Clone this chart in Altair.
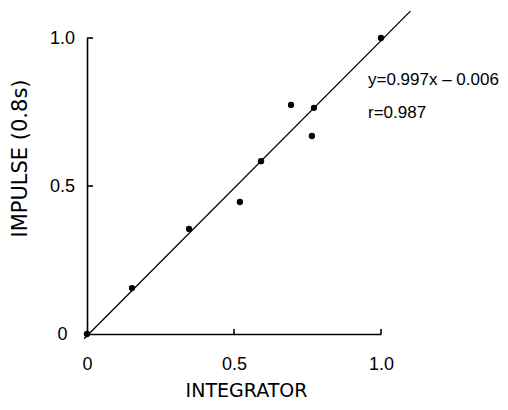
import altair as alt
import pandas as pd

# Data
integrator = [0.0, 0.153, 0.347, 0.520, 0.592, 0.694, 0.765, 0.772, 1.0]
impulse = [0.0, 0.155, 0.355, 0.446, 0.584, 0.774, 0.669, 0.764, 1.0]

slope = 0.997
intercept = -0.006
fit_x = [-0.01, 1.1]

tick_values = [0.0, 0.5, 1.0]
tick_marks = [0.5, 1.0]
annotations = ["y=0.997x – 0.006", "r=0.987"]
annotation_y = [42, 75]

pts = pd.DataFrame({"x": integrator, "y": impulse})
fit = pd.DataFrame({"x": fit_x, "y": [slope * v + intercept for v in fit_x]})
ticks = pd.DataFrame({"v": tick_marks})

W, H = 294, 296
FONT = "Liberation Sans"

xscale = alt.Scale(domain=[0, 1], nice=False, zero=False)
yscale = alt.Scale(domain=[0, 1], nice=False, zero=False)
LBL = "datum.value == 0 ? '0' : format(datum.value, '.1f')"

xaxis = alt.Axis(
    values=tick_values, labelExpr=LBL,
    ticks=False, tickSize=0, grid=False, domainColor="black", domainWidth=1.6,
    labelFont=FONT, labelFontSize=18, labelColor="black", labelPadding=30,
    labelBaseline="middle", labelAlign="center", labelFlush=False,
    title="INTEGRATOR", titleFont="DejaVu Sans", titleFontSize=19, titleFontWeight="normal",
    titleColor="black", titleX=159, titleY=56, titleAlign="center", titleBaseline="middle",
)
yaxis = alt.Axis(
    values=tick_values, labelExpr=LBL,
    ticks=False, tickSize=0, grid=False, domainColor="black", domainWidth=1.6,
    labelFont=FONT, labelFontSize=18, labelColor="black", labelPadding=25,
    labelBaseline="middle", labelAlign="center", labelFlush=False,
    title="IMPULSE (0.8s)", titleFont="DejaVu Sans", titleFontSize=21, titleFontWeight="normal",
    titleColor="black", titleX=-67, titleY=120, titleAlign="center", titleBaseline="middle",
    titleAngle=-90,
)

X = lambda f: alt.X(f, scale=xscale, axis=xaxis)
Y = lambda f: alt.Y(f, scale=yscale, axis=yaxis)

line = alt.Chart(fit).mark_line(color="black", strokeWidth=1.3, clip=False).encode(
    x=X("x:Q"), y=Y("y:Q"),
)

points = alt.Chart(pts).mark_circle(color="black", opacity=1, size=40).encode(
    x=X("x:Q"), y=Y("y:Q"),
)

yticks = alt.Chart(ticks).mark_rule(color="black", strokeWidth=1.6).encode(
    y=Y("v:Q"), x=alt.value(0), x2=alt.value(6)
)
xticks = alt.Chart(ticks).mark_rule(color="black", strokeWidth=1.6).encode(
    x=X("v:Q"), y=alt.value(H), y2=alt.value(H - 5)
)

texts = [
    alt.Chart(pd.DataFrame({"t": [t]})).mark_text(
        align="left", baseline="middle", font=FONT, fontSize=17, color="black"
    ).encode(x=alt.value(281), y=alt.value(yy), text="t:N")
    for t, yy in zip(annotations, annotation_y)
]

chart = alt.layer(line, points, yticks, xticks, *texts).properties(
    width=W, height=H,
    autosize=alt.AutoSizeParams(type="none"),
    padding={"left": 79, "top": 30, "right": 119, "bottom": 68},
).configure_view(stroke=None, strokeWidth=0)

chart.save("out.html", embed_options={"renderer": "svg", "actions": False})
